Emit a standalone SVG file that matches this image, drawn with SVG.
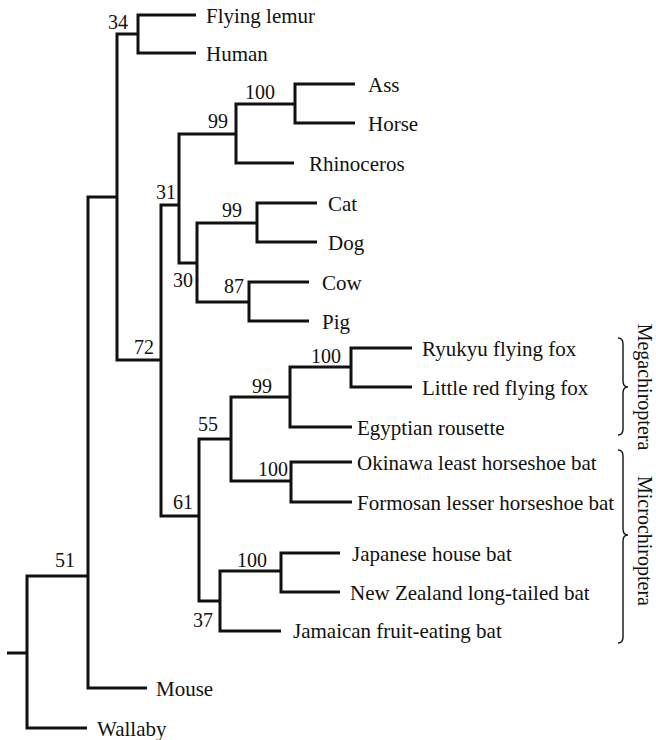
<svg xmlns="http://www.w3.org/2000/svg" width="656" height="740" viewBox="0 0 656 740">
<style>
.br{fill:none;stroke:#111;stroke-width:3;stroke-linejoin:miter;stroke-linecap:butt}
.bc{fill:none;stroke:#111;stroke-width:1.4}
.lf{font-size:21px}
.bs{font-size:20px}
.cl{font-size:20px;text-anchor:middle}
</style>
<rect width="656" height="740" fill="#fff"/>
<g id="connectors">
<polyline class="br" points="7,653 27,653"/>
<polyline class="br" points="88,576 27,576 27,728 87,728"/>
<polyline class="br" points="117,197 88,197 88,688 147,688"/>
<polyline class="br" points="138,34 117,34 117,360 161,360"/>
<polyline class="br" points="196,15 138,15 138,53 196,53"/>
<polyline class="br" points="179,205 161,205 161,516 199,516"/>
<polyline class="br" points="236,134 179,134 179,263 197,263"/>
<polyline class="br" points="295,104 236,104 236,163 294,163"/>
<polyline class="br" points="355,84 295,84 295,123 355,123"/>
<polyline class="br" points="257,223 197,223 197,302 249,302"/>
<polyline class="br" points="317,203 257,203 257,242 317,242"/>
<polyline class="br" points="309,282 249,282 249,321 309,321"/>
<polyline class="br" points="231,439 199,439 199,601 220,601"/>
<polyline class="br" points="290,397 231,397 231,481 291,481"/>
<polyline class="br" points="351,367 290,367 290,427 352,427"/>
<polyline class="br" points="412,348 351,348 351,387 412,387"/>
<polyline class="br" points="352,462 291,462 291,502 352,502"/>
<polyline class="br" points="281,571 220,571 220,631 281,631"/>
<polyline class="br" points="340,553 281,553 281,592 340,592"/>
</g>
<g id="leaves" class="lf" font-family="'Liberation Serif', 'Times New Roman', Times, serif" fill="#111">
<text id="flying-lemur" x="206" y="22.5">Flying lemur</text>
<text id="human" x="206" y="60.5">Human</text>
<text id="ass" x="368" y="91.5">Ass</text>
<text id="horse" x="368" y="130.5">Horse</text>
<text id="rhinoceros" x="309" y="170.5">Rhinoceros</text>
<text id="cat" x="328" y="210.5">Cat</text>
<text id="dog" x="328" y="249.5">Dog</text>
<text id="cow" x="322" y="289.5">Cow</text>
<text id="pig" x="322" y="328.5">Pig</text>
<text id="ryukyu" x="422" y="355.5">Ryukyu flying fox</text>
<text id="little-red" x="422" y="394.5">Little red flying fox</text>
<text id="egyptian" x="357" y="434.5">Egyptian rousette</text>
<text id="okinawa" x="357" y="469.5">Okinawa least horseshoe bat</text>
<text id="formosan" x="357" y="509.5">Formosan lesser horseshoe bat</text>
<text id="japanese" x="352" y="560.5">Japanese house bat</text>
<text id="new-zealand" x="350" y="599.5">New Zealand long-tailed bat</text>
<text id="jamaican" x="293" y="638">Jamaican fruit-eating bat</text>
<text id="mouse" x="156" y="695.5">Mouse</text>
<text id="wallaby" x="97" y="735.5">Wallaby</text>
</g>
<g id="support" class="bs" font-family="'Liberation Serif', 'Times New Roman', Times, serif" fill="#111">
<text x="108" y="29">34</text>
<text x="245" y="99">100</text>
<text x="208" y="128">99</text>
<text x="156" y="199">31</text>
<text x="222" y="217">99</text>
<text x="173" y="287">30</text>
<text x="224" y="293">87</text>
<text x="134" y="354">72</text>
<text x="311" y="363">100</text>
<text x="252" y="393">99</text>
<text x="198" y="431">55</text>
<text x="258" y="476">100</text>
<text x="173" y="509">61</text>
<text x="237" y="567">100</text>
<text x="193" y="627">37</text>
<text x="55" y="567">51</text>
</g>
<g id="megachiroptera" font-family="'Liberation Serif', 'Times New Roman', Times, serif" fill="#111">
<path class="bc" d="M618,338 Q623,338 623,344 L623,381 Q623,387 628,387 Q623,387 623,393 L623,429 Q623,435 618,435"/>
<text class="cl" transform="translate(638,387) rotate(90)">Megachiroptera</text>
</g>
<g id="microchiroptera" font-family="'Liberation Serif', 'Times New Roman', Times, serif" fill="#111">
<path class="bc" d="M618,450 Q623,450 623,456 L623,529 Q623,535 628,535 Q623,535 623,541 L623,637 Q623,643 618,643"/>
<text class="cl" transform="translate(638,541) rotate(90)">Microchiroptera</text>
</g>
</svg>
